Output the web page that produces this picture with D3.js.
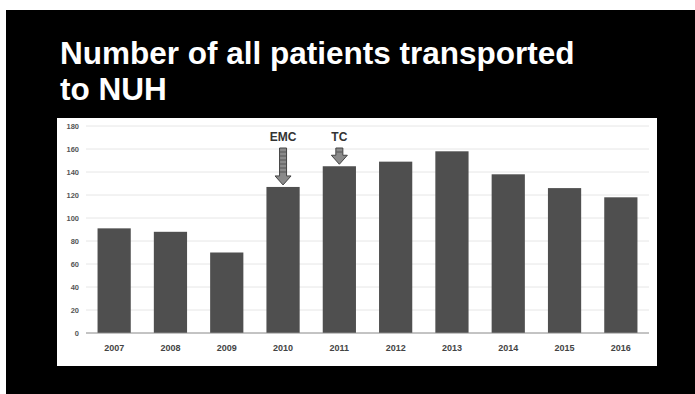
<!DOCTYPE html>
<html>
<head>
<meta charset="utf-8">
<script src="https://cdn.jsdelivr.net/npm/d3@7"></script>
<style>
  html, body { margin: 0; padding: 0; background: #fff; }
  svg { display: block; }
</style>
</head>
<body>
<script>
// Yearly number of patients transported to NUH
const years = ["2007", "2008", "2009", "2010", "2011", "2012", "2013", "2014", "2015", "2016"];
const patients = [91, 88, 70, 127, 145, 149, 158, 138, 126, 118];
const yTicks = [0, 20, 40, 60, 80, 100, 120, 140, 160, 180];
const notes = [
  { year: "2010", label: "EMC" },
  { year: "2011", label: "TC" }
];
const titleLines = ["Number of all patients transported", "to NUH"];

const W = 695, H = 394;
const svg = d3.select("body").append("svg").attr("width", W).attr("height", H);

// slide background
svg.append("rect").attr("x", 6).attr("y", 10).attr("width", W - 6).attr("height", H - 10).attr("fill", "#000");

// title
svg.append("text")
  .attr("font-family", "Liberation Sans, Arial, sans-serif")
  .attr("font-weight", "bold")
  .attr("font-size", 31.5)
  .attr("fill", "#fff")
  .selectAll("tspan").data(titleLines).join("tspan")
  .attr("x", 60)
  .attr("y", (d, i) => 64 + i * 36)
  .text(d => d);

// chart panel
svg.append("rect").attr("x", 57).attr("y", 118).attr("width", 600).attr("height", 248).attr("fill", "#fff");

const x = d3.scaleBand().domain(years).range([86, 649]).paddingInner(0.41).paddingOuter(0.205);
const y = d3.scaleLinear().domain([0, 180]).range([333, 126]);

// gridlines
const g = svg.append("g");
g.selectAll("line.grid").data(yTicks.slice(1)).join("line")
  .attr("class", "grid")
  .attr("x1", 86).attr("x2", 649)
  .attr("y1", d => y(d)).attr("y2", d => y(d))
  .attr("stroke", "#e6e6e6").attr("stroke-width", 1);

// y axis labels
const yAxis = d3.axisLeft(y).tickValues(yTicks).tickSize(0).tickPadding(0);
const ya = svg.append("g").attr("transform", "translate(79,0)").call(yAxis);
ya.select(".domain").remove();
ya.selectAll("text")
  .attr("font-family", "Liberation Sans, Arial, sans-serif")
  .attr("font-size", 7.5)
  .attr("font-weight", "bold")
  .attr("fill", "#555");

// bars
svg.selectAll("rect.bar").data(years).join("rect")
  .attr("class", "bar")
  .attr("x", d => x(d))
  .attr("width", x.bandwidth())
  .attr("y", (d, i) => y(patients[i]))
  .attr("height", (d, i) => y(0) - y(patients[i]))
  .attr("fill", "#4f4f4f");

// baseline
svg.append("line").attr("x1", 86).attr("x2", 649).attr("y1", y(0)).attr("y2", y(0))
  .attr("stroke", "#888").attr("stroke-width", 1);

// x axis labels
const xAxis = d3.axisBottom(x).tickSize(0).tickPadding(0);
const xa = svg.append("g").attr("transform", `translate(0,${y(0) + 12})`).call(xAxis);
xa.select(".domain").remove();
xa.selectAll("text")
  .attr("font-family", "Liberation Sans, Arial, sans-serif")
  .attr("font-size", 9)
  .attr("font-weight", "bold")
  .attr("fill", "#444");

// annotations with down arrows
const shaftTop = 148;
notes.forEach(n => {
  const cx = x(n.year) + x.bandwidth() / 2;
  const v = patients[years.indexOf(n.year)];
  const tip = y(v) - 2;
  const headTop = tip - 9;
  svg.append("text")
    .attr("x", cx).attr("y", 141)
    .attr("text-anchor", "middle")
    .attr("font-family", "Liberation Sans, Arial, sans-serif")
    .attr("font-weight", "bold")
    .attr("font-size", 12)
    .attr("fill", "#333")
    .text(n.label);
  const p = d3.path();
  p.moveTo(cx - 3.5, shaftTop);
  p.lineTo(cx + 3.5, shaftTop);
  p.lineTo(cx + 3.5, headTop);
  p.lineTo(cx + 8, headTop);
  p.lineTo(cx, tip);
  p.lineTo(cx - 8, headTop);
  p.lineTo(cx - 3.5, headTop);
  p.closePath();
  svg.append("path").attr("d", p.toString())
    .attr("fill", "#8a8a8a").attr("stroke", "#444").attr("stroke-width", 1);
  // stripes inside the shaft
  const stripes = d3.range(shaftTop + 4, headTop, 4);
  svg.selectAll(null).data(stripes).join("line")
    .attr("x1", cx - 3).attr("x2", cx + 3)
    .attr("y1", d => d).attr("y2", d => d)
    .attr("stroke", "#555").attr("stroke-width", 1);
});
</script>
</body>
</html>
